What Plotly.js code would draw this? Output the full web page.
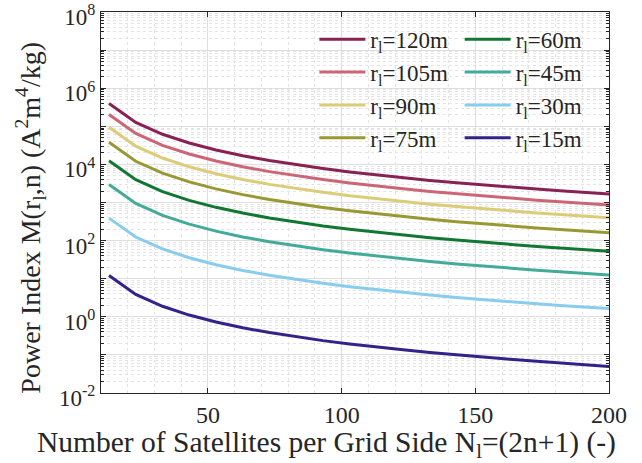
<!DOCTYPE html>
<html>
<head>
<meta charset="utf-8">
<script src="https://cdn.plot.ly/plotly-3.0.1.min.js"></script>
<style>html,body{margin:0;padding:0;background:#fff;}#chart{width:642px;height:463px;}</style>
</head>
<body>
<div id="chart"></div>
<script>
// Number of satellites per grid side N_l
const satellitesN = [13, 23, 33, 43, 53, 63, 73, 83, 93, 103, 113, 123, 133, 143, 153, 163, 173, 183, 193, 203];

const seriesNames = ["r<sub>l</sub>=120m", "r<sub>l</sub>=105m", "r<sub>l</sub>=90m", "r<sub>l</sub>=75m",
                     "r<sub>l</sub>=60m", "r<sub>l</sub>=45m", "r<sub>l</sub>=30m", "r<sub>l</sub>=15m"];

const r120 = [398000, 127000, 61800, 36400, 23900, 16900, 12600, 9770, 7780, 6340, 5270, 4450, 3800, 3290, 2870, 2530, 2250, 2010, 1810, 1630];
const r105 = [204000, 65200, 31700, 18700, 12300, 8670, 6460, 5010, 3990, 3250, 2700, 2280, 1950, 1690, 1470, 1300, 1150, 1030, 929, 836];
const r90  = [94500, 30100, 14700, 8640, 5670, 4010, 2990, 2320, 1850, 1500, 1250, 1060, 902, 781, 681, 600, 534, 477, 430, 387];
const r75  = [38000, 12100, 5900, 3470, 2280, 1610, 1200, 932, 742, 605, 503, 425, 363, 314, 274, 241, 215, 192, 173, 156];
const r60  = [12400, 3970, 1930, 1140, 747, 528, 394, 305, 243, 198, 165, 139, 119, 103, 89.7, 79.1, 70.3, 62.8, 56.6, 50.9];
const r45  = [2950, 942, 458, 270, 177, 125, 93.4, 72.5, 57.7, 47.0, 39.1, 33.0, 28.2, 24.4, 21.3, 18.8, 16.7, 14.9, 13.4, 12.1];
const r30  = [389, 124, 60.4, 35.5, 23.3, 16.5, 12.3, 9.54, 7.60, 6.19, 5.15, 4.35, 3.71, 3.21, 2.80, 2.47, 2.20, 1.96, 1.77, 1.59];
const r15  = [12.1, 3.88, 1.89, 1.11, 0.729, 0.516, 0.385, 0.298, 0.237, 0.194, 0.161, 0.136, 0.116, 0.100, 0.0870, 0.0765, 0.0678, 0.0603, 0.0540, 0.0482];

const seriesValues = [r120, r105, r90, r75, r60, r45, r30, r15];
const seriesColors = ["#882255", "#CC6677", "#DDCC77", "#999933", "#117733", "#44AA99", "#88CCEE", "#332288"];

const xTickVals = [50, 100, 150, 200];
const xTickText = ["50", "100", "150", "200"];
const yTickVals = [0.01, 0.1, 1, 10, 100, 1000, 10000, 100000, 1000000, 10000000, 100000000];
const yTickText = ["10<sup>-2</sup>", "", "10<sup>0</sup>", "", "10<sup>2</sup>", "", "10<sup>4</sup>", "", "10<sup>6</sup>", "", "10<sup>8</sup>"];

const xTitle = "Number of Satellites per Grid Side N<sub>l</sub>=(2n+1) (-)";
const yTitle = "Power Index M(r<sub>l</sub>,n) (A<sup>2</sup>m<sup>4</sup>/kg)";

const FONT = "Liberation Serif, Times New Roman, serif";
const AXC = "#262626";

const traces = seriesValues.map((vals, i) => ({
  type: "scatter",
  mode: "lines",
  x: satellitesN,
  y: vals,
  name: seriesNames[i],
  line: {color: seriesColors[i], width: 3},
  legend: i < 4 ? "legend" : "legend2",
  showlegend: true
}));

const legendCommon = {
  bgcolor: "rgba(0,0,0,0)",
  borderwidth: 0,
  font: {family: FONT, size: 23, color: AXC},
  itemwidth: 46,
  tracegroupgap: 0,
  yanchor: "top",
  xanchor: "left",
  orientation: "v"
};

const layout = {
  width: 642,
  height: 463,
  paper_bgcolor: "#ffffff",
  plot_bgcolor: "#ffffff",
  margin: {l: 101, r: 33, t: 12, b: 70},
  font: {family: FONT, size: 23, color: AXC},
  showlegend: true,
  legend: Object.assign({}, legendCommon, {x: 0.42, y: 0.985}),
  legend2: Object.assign({}, legendCommon, {x: 0.706, y: 0.985}),
  xaxis: {
    range: [10, 200],
    tickmode: "array",
    tickvals: xTickVals,
    ticktext: xTickText,
    ticks: "inside",
    ticklen: 5,
    tickcolor: AXC,
    showline: true,
    linecolor: AXC,
    linewidth: 1,
    mirror: "allticks",
    showgrid: true,
    gridcolor: "#dedede",
    gridwidth: 1,
    zeroline: false,
    ticklabeloverflow: "allow",
    tickfont: {family: FONT, size: 24, color: AXC},
    minor: {dtick: 10, showgrid: true, gridcolor: "#e4e4e4", griddash: "dot", ticks: ""}
  },
  yaxis: {
    type: "log",
    range: [-2, 8],
    tickmode: "array",
    tickvals: yTickVals,
    ticktext: yTickText,
    ticks: "inside",
    ticklen: 5,
    tickcolor: AXC,
    showline: true,
    linecolor: AXC,
    linewidth: 1,
    mirror: "allticks",
    showgrid: true,
    gridcolor: "#dedede",
    gridwidth: 1,
    zeroline: false,
    ticklabeloverflow: "allow",
    ticklabelshift: 5,
    tickfont: {family: FONT, size: 23, color: AXC},
    minor: {dtick: "D1", showgrid: true, gridcolor: "#e4e4e4", griddash: "dot", ticks: "inside", ticklen: 3, tickcolor: AXC}
  },
  annotations: [
    {text: xTitle, xref: "paper", yref: "paper", x: 0.443, y: -0.1335, xanchor: "center", yanchor: "middle",
     showarrow: false, font: {family: FONT, size: 29.5, color: AXC}},
    {text: yTitle, xref: "paper", yref: "paper", x: -0.138, y: 0.46, xanchor: "center", yanchor: "middle",
     textangle: -90, showarrow: false, font: {family: FONT, size: 28, color: AXC}}
  ]
};

Plotly.newPlot("chart", traces, layout, {displayModeBar: false, staticPlot: true});
</script>
</body>
</html>
